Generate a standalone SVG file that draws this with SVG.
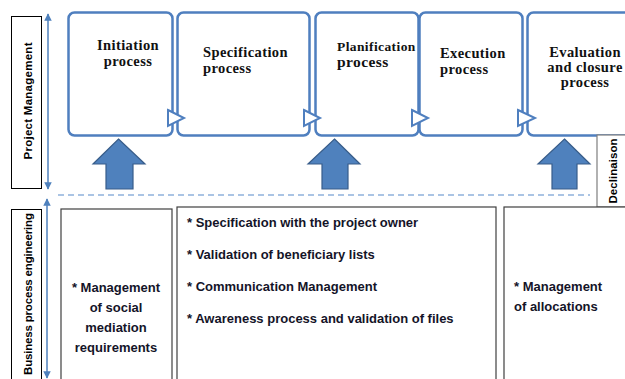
<svg xmlns="http://www.w3.org/2000/svg" width="625" height="379" viewBox="0 0 625 379">
  <style>
    .proc { fill: #ffffff; stroke: #4f7fbf; stroke-width: 2.5; }
    .notch { fill: #ffffff; stroke: #4f7fbf; stroke-width: 2; stroke-linejoin: miter; }
    .up { fill: #4f81bd; stroke: #385d8a; stroke-width: 1.2; }
    .title { font-family: "Liberation Serif", "Times New Roman", serif; font-weight: bold; font-size: 14.5px; fill: #111; letter-spacing: 0.4px; }
    .task { font-family: "Liberation Sans", Arial, sans-serif; font-weight: bold; font-size: 13px; fill: #141428; }
    .lane { font-family: "Liberation Sans", Arial, sans-serif; font-weight: bold; font-size: 11.5px; fill: #000; }
    .lanebox { fill: #ffffff; stroke: #000; stroke-width: 1; }
    .taskbox { fill: #ffffff; stroke: #404040; stroke-width: 1.2; }
    .axis { stroke: #4f81bd; stroke-width: 1.5; fill: none; marker-start: url(#tip); marker-end: url(#tip); }
  </style>
  <defs>
    <marker id="tip" viewBox="0 0 10 10" refX="9" refY="5" markerWidth="5" markerHeight="5" orient="auto-start-reverse" markerUnits="strokeWidth">
      <path d="M0,0 L10,5 L0,10 z" fill="#4f81bd"/>
    </marker>
  </defs>

  <rect width="625" height="379" fill="#ffffff"/>

  <!-- lane labels -->
  <g id="lane-pm">
    <rect class="lanebox" x="11.5" y="16.5" width="30" height="172"/>
    <text class="lane" text-anchor="middle" transform="translate(31.5,101) rotate(-90)" textLength="117">Project Management</text>
  </g>
  <g id="lane-bpe">
    <rect class="lanebox" x="11.5" y="209.5" width="30" height="180"/>
    <text class="lane" text-anchor="middle" transform="translate(31.5,294) rotate(-90)" textLength="162">Business process engineering</text>
  </g>

  <!-- process blocks -->
  <g id="initiation">
    <rect class="proc" x="68.5" y="12.5" width="104" height="123" rx="6"/>
    <text class="title" x="128" y="50" text-anchor="middle">Initiation</text>
    <text class="title" x="128" y="66" text-anchor="middle">process</text>
  </g>
  <g id="specification">
    <rect class="proc" x="177.5" y="12.5" width="132" height="123" rx="6"/>
    <text class="title" x="203" y="57">Specification</text>
    <text class="title" x="203" y="73">process</text>
  </g>
  <g id="planification">
    <rect class="proc" x="315.5" y="12.5" width="103" height="123" rx="6"/>
    <text class="title" x="337" y="51" style="font-size:13.5px">Planification</text>
    <text class="title" x="337" y="67" style="font-size:15.5px">process</text>
  </g>
  <g id="execution">
    <rect class="proc" x="419.5" y="12.5" width="103" height="123" rx="6"/>
    <text class="title" x="440" y="58">Execution</text>
    <text class="title" x="440" y="74">process</text>
  </g>
  <g id="evaluation">
    <rect class="proc" x="527.5" y="12.5" width="120" height="123" rx="6"/>
    <text class="title" x="585" y="57" text-anchor="middle">Evaluation</text>
    <text class="title" x="585" y="72" text-anchor="middle">and closure</text>
    <text class="title" x="585" y="87" text-anchor="middle">process</text>
  </g>

  <!-- declinaison tab -->
  <g id="declinaison">
    <rect x="597" y="135" width="40" height="72" fill="#ffffff" stroke="#7f7f7f" stroke-width="1.2"/>
    <text class="lane" text-anchor="middle" transform="translate(616.5,171) rotate(-90)" textLength="65">Declinaison</text>
  </g>

  <!-- task boxes -->
  <g id="tasks-initiation">
    <rect class="taskbox" x="61" y="209" width="111" height="180"/>
    <text class="task" x="116" y="292" text-anchor="middle">* Management</text>
    <text class="task" x="116" y="312" text-anchor="middle">of social</text>
    <text class="task" x="116" y="332" text-anchor="middle">mediation</text>
    <text class="task" x="116" y="352" text-anchor="middle">requirements</text>
  </g>
  <g id="tasks-specification">
    <rect class="taskbox" x="177" y="207" width="319" height="182"/>
    <text class="task" x="187" y="227">* Specification with the project owner</text>
    <text class="task" x="187" y="259">* Validation of beneficiary lists</text>
    <text class="task" x="187" y="291">* Communication Management</text>
    <text class="task" x="187" y="323">* Awareness process and validation of files</text>
  </g>
  <g id="tasks-evaluation">
    <rect class="taskbox" x="504" y="207" width="140" height="182"/>
    <text class="task" x="514" y="291">* Management</text>
    <text class="task" x="514" y="311">of allocations</text>
  </g>

  <!-- connectors -->
  <g id="connectors">
    <polygon class="notch" points="168,110 184,118 168,126"/>
    <polygon class="notch" points="304,110 320,118 304,126"/>
    <polygon class="notch" points="412,110 428,118 412,126"/>
    <polygon class="notch" points="518,110 535,118 518,126"/>

    <polygon class="up" points="118.5,139 145,164 133,164 133,189 106,189 106,164 93,164"/>
    <polygon class="up" points="334.5,139 360,164 348,164 348,189 322,189 322,164 308,164"/>
    <polygon class="up" points="564.5,139 590,164 577,164 577,189 552,189 552,164 538,164"/>

    <line x1="58" y1="195" x2="590" y2="195" stroke="#8eb1dc" stroke-width="1.5" stroke-dasharray="6 4"/>

    <line class="axis" x1="48" y1="14" x2="48" y2="189"/>
    <line class="axis" x1="47" y1="199" x2="47" y2="378"/>
  </g>
</svg>
